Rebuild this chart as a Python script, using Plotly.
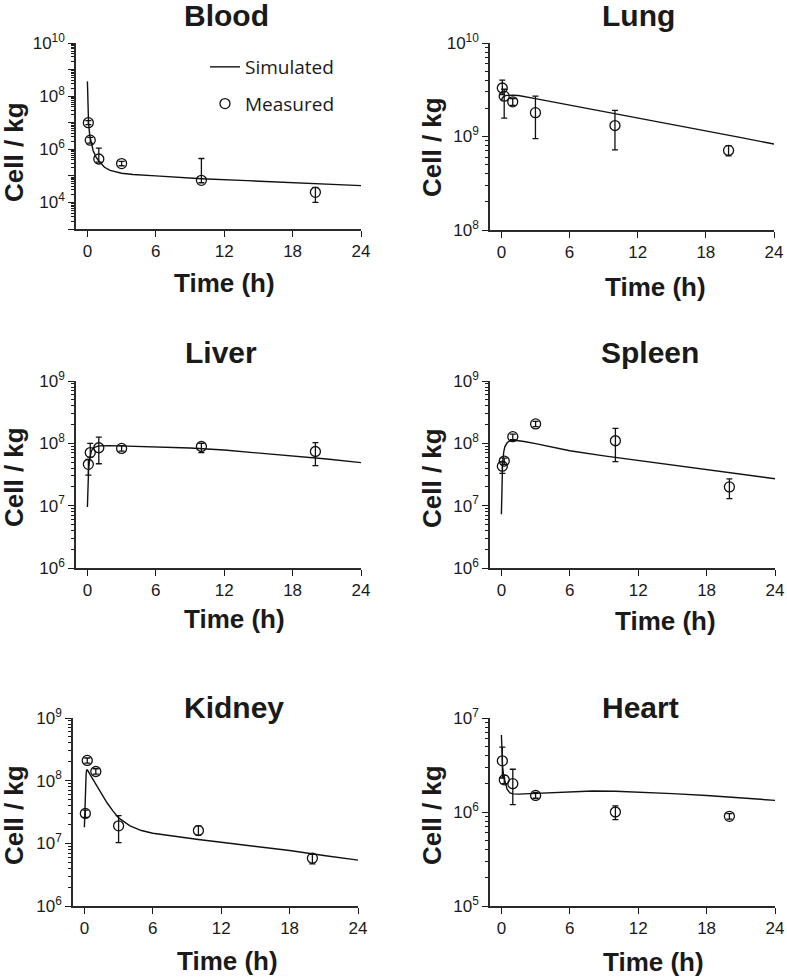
import plotly.graph_objects as go

W, H = 787, 979

# ---------------- data ----------------
meas_t = [0.083, 0.25, 1, 3, 10, 20]

blood_sim_t = [0, 0.05, 0.1, 0.2, 0.35, 0.5, 0.75, 1, 1.5, 2, 3, 4, 6, 8, 10, 14, 18, 20, 24]
blood_sim_v = [3.6e8, 3e7, 1e7, 3.5e6, 1.6e6, 9e5, 5.2e5, 3.6e5, 2.1e5, 1.6e5, 1.25e5, 1.12e5,
               1.0e5, 8.8e4, 7.8e4, 6.6e4, 5.6e4, 5.2e4, 4.3e4]
blood_meas = [1.0e7, 2.2e6, 4.3e5, 2.9e5, 6.8e4, 2.4e4]
blood_lo = [8.5e6, 1.7e6, 3.3e5, 2.4e5, 5.5e4, 1.0e4]
blood_hi = [1.2e7, 2.8e6, 1.1e6, 3.5e5, 4.5e5, 3.7e4]

lung_sim_t = [0, 0.1, 0.25, 0.5, 1, 1.5, 3, 6, 9, 12, 15, 18, 21, 24]
lung_sim_v = [2.4e9, 2.6e9, 2.7e9, 2.75e9, 2.76e9, 2.74e9, 2.54e9, 2.17e9, 1.85e9, 1.58e9,
              1.35e9, 1.16e9, 9.8e8, 8.3e8]
lung_meas = [3.3e9, 2.7e9, 2.35e9, 1.8e9, 1.31e9, 7.1e8]
lung_lo = [2.8e9, 1.57e9, 2.15e9, 9.5e8, 7.2e8, 6.2e8]
lung_hi = [4.0e9, 3.2e9, 2.55e9, 2.7e9, 1.9e9, 8.0e8]

liver_sim_t = [0, 0.05, 0.1, 0.2, 0.35, 0.5, 0.75, 1, 2, 3, 4, 6, 9, 12, 15, 18, 21, 24]
liver_sim_v = [9.5e6, 2.2e7, 3.6e7, 5.6e7, 7.5e7, 8.5e7, 8.9e7, 9.1e7, 9.2e7, 9.1e7, 9.0e7,
               8.8e7, 8.4e7, 7.8e7, 7.0e7, 6.3e7, 5.6e7, 4.9e7]
liver_meas = [4.6e7, 7.1e7, 8.5e7, 8.3e7, 8.9e7, 7.4e7]
liver_lo = [3.1e7, 6.0e7, 4.7e7, 7.5e7, 7.1e7, 4.4e7]
liver_hi = [5.5e7, 1.0e8, 1.26e8, 9.2e7, 1.0e8, 1.03e8]

spleen_sim_t = [0, 0.05, 0.1, 0.2, 0.3, 0.5, 0.75, 1, 1.5, 2, 3, 6, 9, 12, 15, 18, 21, 24]
spleen_sim_v = [7.3e6, 2.5e7, 4.5e7, 7.2e7, 8.8e7, 1.02e8, 1.1e8, 1.13e8, 1.11e8, 1.07e8,
                9.9e7, 7.6e7, 6.3e7, 5.3e7, 4.5e7, 3.8e7, 3.2e7, 2.7e7]
spleen_meas = [4.3e7, 5.2e7, 1.28e8, 2.05e8, 1.1e8, 2.0e7]
spleen_lo = [3.3e7, 4.6e7, 1.15e8, 1.85e8, 5.1e7, 1.3e7]
spleen_hi = [5.0e7, 5.8e7, 1.4e8, 2.25e8, 1.74e8, 2.7e7]

kidney_sim_t = [0, 0.05, 0.1, 0.15, 0.2, 0.3, 0.5, 0.75, 1, 1.5, 2, 2.5, 3, 4, 5, 6, 8, 10,
                12, 15, 18, 21, 24]
kidney_sim_v = [1.8e7, 4e7, 8e7, 1.25e8, 1.5e8, 1.45e8, 1.25e8, 1.05e8, 8.8e7, 6.2e7, 4.4e7,
                3.3e7, 2.55e7, 1.9e7, 1.6e7, 1.45e7, 1.28e7, 1.15e7, 1.04e7, 9.0e6, 7.7e6,
                6.4e6, 5.4e6]
kidney_meas = [3.0e7, 2.1e8, 1.4e8, 1.9e7, 1.6e7, 5.8e6]
kidney_lo = [2.6e7, 1.9e8, 1.27e8, 1.03e7, 1.35e7, 4.7e6]
kidney_hi = [3.4e7, 2.3e8, 1.55e8, 2.76e7, 1.9e7, 6.7e6]

heart_sim_t = [0, 0.05, 0.1, 0.2, 0.3, 0.5, 0.75, 1, 1.5, 2, 3, 4, 6, 8, 10, 12, 15, 18, 21, 24]
heart_sim_v = [6.6e6, 4.2e6, 3.1e6, 2.4e6, 2.1e6, 1.75e6, 1.6e6, 1.56e6, 1.55e6, 1.56e6,
               1.58e6, 1.61e6, 1.65e6, 1.67e6, 1.66e6, 1.63e6, 1.57e6, 1.5e6, 1.42e6, 1.33e6]
heart_meas = [3.5e6, 2.2e6, 2.0e6, 1.5e6, 1.0e6, 9.0e5]
heart_lo = [2.3e6, 2.0e6, 1.2e6, 1.4e6, 8.3e5, 8.4e5]
heart_hi = [4.9e6, 2.45e6, 2.85e6, 1.62e6, 1.16e6, 9.6e5]

x_ticks = [0, 6, 12, 18, 24]

# ---------------- layout description ----------------
panels = [
    dict(name="Blood", sim_t=blood_sim_t, sim_v=blood_sim_v, meas=blood_meas, lo=blood_lo, hi=blood_hi,
         dom=(76, 361, 43, 229), yr=(3, 10), labeled=[4, 6, 8, 10],
         title=(226, 15), xt=(225, 283), yt=(14, 152)),
    dict(name="Lung", sim_t=lung_sim_t, sim_v=lung_sim_v, meas=lung_meas, lo=lung_lo, hi=lung_hi,
         dom=(490, 774, 43, 230), yr=(8, 10), labeled=[8, 9, 10],
         title=(638, 15), xt=(655, 287), yt=(432, 147)),
    dict(name="Liver", sim_t=liver_sim_t, sim_v=liver_sim_v, meas=liver_meas, lo=liver_lo, hi=liver_hi,
         dom=(76, 361, 381, 568), yr=(6, 9), labeled=[6, 7, 8, 9],
         title=(221, 352), xt=(235, 619), yt=(14, 477)),
    dict(name="Spleen", sim_t=spleen_sim_t, sim_v=spleen_sim_v, meas=spleen_meas, lo=spleen_lo, hi=spleen_hi,
         dom=(490, 775, 381, 568), yr=(6, 9), labeled=[6, 7, 8, 9],
         title=(650, 352), xt=(665, 621), yt=(432, 478)),
    dict(name="Kidney", sim_t=kidney_sim_t, sim_v=kidney_sim_v, meas=kidney_meas, lo=kidney_lo, hi=kidney_hi,
         dom=(73, 358, 718, 906), yr=(6, 9), labeled=[6, 7, 8, 9],
         title=(234, 707), xt=(227, 961), yt=(14, 815)),
    dict(name="Heart", sim_t=heart_sim_t, sim_v=heart_sim_v, meas=heart_meas, lo=heart_lo, hi=heart_hi,
         dom=(490, 775, 718, 906), yr=(5, 7), labeled=[5, 6, 7],
         title=(640, 707), xt=(653, 962), yt=(432, 815)),
]

FONT = "Arial, Liberation Sans, sans-serif"
INK = "#1a1a1a"

fig = go.Figure()
annotations = []
layout = {}


def px(x):
    return x / W


def py(y):
    return 1 - y / H


for i, p in enumerate(panels):
    n = "" if i == 0 else str(i + 1)
    xa, ya = "x" + n, "y" + n
    x0, x1, y0, y1 = p["dom"]
    fig.add_trace(go.Scatter(
        x=p["sim_t"], y=p["sim_v"], mode="lines", name="Simulated",
        line=dict(color="#111111", width=1.4), xaxis=xa, yaxis=ya,
        showlegend=(i == 0), legendgroup="sim"))
    err_plus = [h - v for h, v in zip(p["hi"], p["meas"])]
    err_minus = [v - l for l, v in zip(p["lo"], p["meas"])]
    fig.add_trace(go.Scatter(
        x=meas_t, y=p["meas"], mode="markers", name="Measured",
        marker=dict(symbol="circle-open", size=10, color="#111111", line=dict(width=1.3)),
        error_y=dict(type="data", symmetric=False, array=err_plus, arrayminus=err_minus,
                     color="#111111", thickness=1.3, width=3),
        xaxis=xa, yaxis=ya, showlegend=(i == 0), legendgroup="meas"))

    lo_d, hi_d = p["yr"]
    major = [10 ** k for k in range(lo_d, hi_d + 1)]
    texts = [("10<sup>%d</sup>" % k) if k in p["labeled"] else "" for k in range(lo_d, hi_d + 1)]
    minor = [m * 10 ** k for k in range(lo_d, hi_d) for m in range(2, 10)]

    layout["xaxis" + n] = dict(
        domain=[px(x0), px(x1)], anchor=ya, range=[-1, 24], automargin=False,
        tickmode="array", tickvals=x_ticks, ticks="outside", ticklen=6, tickwidth=1.3,
        tickcolor=INK, showline=True, linecolor="#2a2a2a", linewidth=1.5,
        showgrid=False, zeroline=False, tickfont=dict(family=FONT, size=17, color=INK))
    layout["yaxis" + n] = dict(
        domain=[py(y1), py(y0)], anchor=xa, type="log", range=[lo_d, hi_d], automargin=False,
        tickmode="array", tickvals=major, ticktext=texts, ticks="outside", ticklen=6,
        tickwidth=1.3, tickcolor=INK, showline=True, linecolor="#2a2a2a", linewidth=1.5,
        showgrid=False, zeroline=False, tickfont=dict(family=FONT, size=17, color=INK),
        minor=dict(tickmode="array", tickvals=minor, ticks="outside", ticklen=3,
                   tickwidth=1, tickcolor=INK, showgrid=False))

    tx, ty = p["title"]
    annotations.append(dict(text="<b>%s</b>" % p["name"], x=px(tx), y=py(ty), xref="paper",
                            yref="paper", xanchor="center", yanchor="middle", showarrow=False,
                            font=dict(family=FONT, size=30, color=INK)))
    ax_, ay_ = p["xt"]
    annotations.append(dict(text="<b>Time (h)</b>", x=px(ax_), y=py(ay_), xref="paper",
                            yref="paper", xanchor="center", yanchor="middle", showarrow=False,
                            font=dict(family=FONT, size=26, color=INK)))
    bx, by = p["yt"]
    annotations.append(dict(text="<b>Cell / kg</b>", x=px(bx), y=py(by), xref="paper",
                            yref="paper", xanchor="center", yanchor="middle", showarrow=False,
                            textangle=-90, font=dict(family=FONT, size=26, color=INK)))

fig.update_layout(
    width=W, height=H, margin=dict(l=0, r=0, t=0, b=0, autoexpand=False),
    paper_bgcolor="white", plot_bgcolor="white",
    annotations=annotations,
    legend=dict(x=px(205), y=py(48), xanchor="left", yanchor="top",
                bgcolor="rgba(0,0,0,0)", font=dict(family="Open Sans, sans-serif", size=19, color=INK),
                tracegroupgap=9),
    **layout)

fig.write_html("out.html", config={"displayModeBar": False},
               post_script="document.body.style.margin='0';document.body.style.overflow='hidden';")
